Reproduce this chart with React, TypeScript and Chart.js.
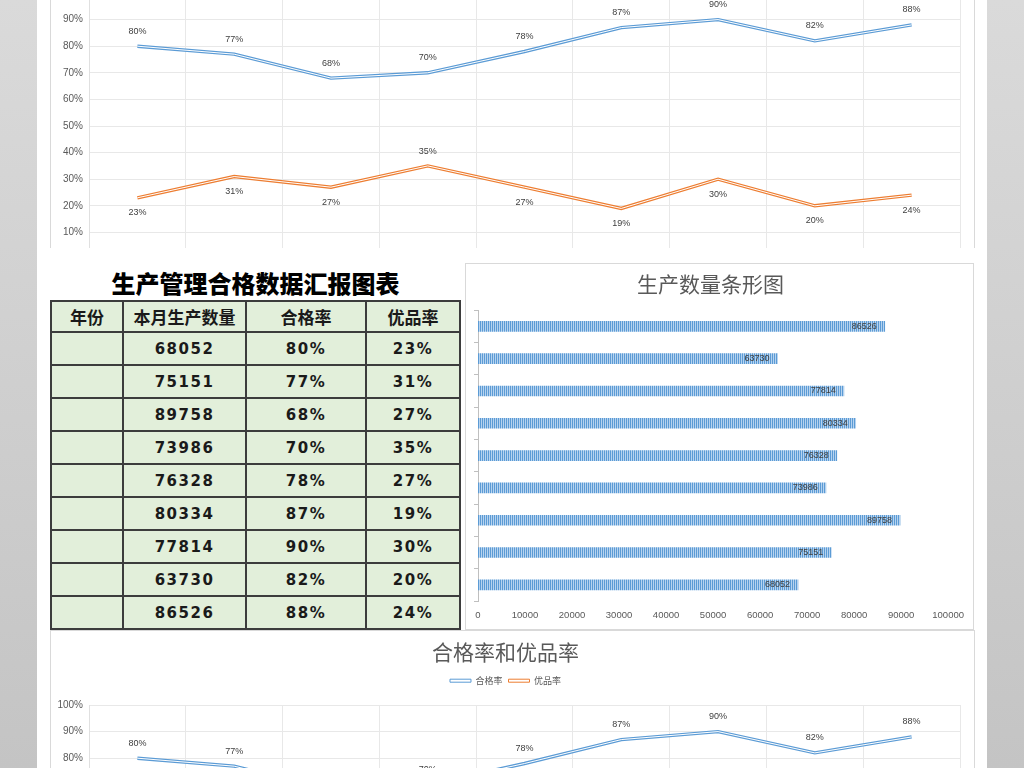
import React, { useEffect, useRef } from 'react';
import { Chart, registerables } from 'chart.js';

Chart.register(...registerables);

// ---------- data ----------
const years = ['', '', '', '', '', '', '', '', ''];
const quantities = [68052, 75151, 89758, 73986, 76328, 80334, 77814, 63730, 86526];
const passRates = [80, 77, 68, 70, 78, 87, 90, 82, 88];
const excellentRates = [23, 31, 27, 35, 27, 19, 30, 20, 24];
const excellentLabelSide = ['below', 'below', 'below', 'above', 'below', 'below', 'below', 'below', 'below'];
const tableHeaders = ['年份', '本月生产数量', '合格率', '优品率'];
const seriesNames = ['合格率', '优品率'];
const pageTitle = '生产管理合格数据汇报图表';
const barTitle = '生产数量条形图';
const lineTitle = '合格率和优品率';

const BLUE = '#5b9bd5';
const ORANGE = '#ed7d31';
const GRID = '#e8e8e8';
const TEXT = '#595959';
const SANS = '"Liberation Sans", Arial, sans-serif';
const CJK = '"Noto Sans CJK SC", "Noto Sans", sans-serif';

const lineLabelPlugin = {
  id: 'lineLabels',
  afterDatasetsDraw(chart: any) {
    const ctx = chart.ctx;
    ctx.save();
    ctx.font = '9px ' + SANS;
    ctx.fillStyle = '#404040';
    ctx.textAlign = 'center';
    ctx.textBaseline = 'middle';
    chart.getDatasetMeta(0).data.forEach((pt: any, i: number) => {
      ctx.fillText(passRates[i] + '%', pt.x, pt.y - 15);
    });
    chart.getDatasetMeta(1).data.forEach((pt: any, i: number) => {
      const dy = excellentLabelSide[i] === 'above' ? -14 : 15;
      ctx.fillText(excellentRates[i] + '%', pt.x, pt.y + dy);
    });
    ctx.restore();
  },
};

const barLabelPlugin = {
  id: 'barLabels',
  afterDatasetsDraw(chart: any) {
    const ctx = chart.ctx;
    ctx.save();
    ctx.font = '9px ' + SANS;
    ctx.fillStyle = '#404040';
    ctx.textAlign = 'right';
    ctx.textBaseline = 'middle';
    chart.getDatasetMeta(0).data.forEach((bar: any, i: number) => {
      ctx.fillText(String(quantities[i]), bar.x - 8, bar.y);
    });
    ctx.restore();
  },
};

function makeLineConfig(): any {
  return {
    type: 'line',
    data: {
      labels: years,
      datasets: [
        { label: seriesNames[0], data: passRates, borderColor: BLUE, borderWidth: 3.4, pointRadius: 0, tension: 0, order: 4 },
        { label: seriesNames[1], data: excellentRates, borderColor: ORANGE, borderWidth: 3.4, pointRadius: 0, tension: 0, order: 3 },
        { label: 'inner1', data: passRates, borderColor: '#ffffff', borderWidth: 1, pointRadius: 0, tension: 0, order: 2 },
        { label: 'inner2', data: excellentRates, borderColor: '#ffffff', borderWidth: 1, pointRadius: 0, tension: 0, order: 1 },
      ],
    },
    options: {
      responsive: false,
      animation: false,
      layout: { padding: { left: 0, right: 14, top: 0, bottom: 0 } },
      plugins: {
        tooltip: { enabled: false },
        title: {
          display: true,
          text: lineTitle,
          color: TEXT,
          font: { family: CJK, size: 21, weight: 'normal', lineHeight: 1.2 },
          padding: { top: 8, bottom: 6 },
        },
        legend: {
          display: true,
          position: 'top',
          labels: {
            boxWidth: 21,
            boxHeight: 3,
            padding: 6,
            color: TEXT,
            font: { family: CJK, size: 9 },
            generateLabels: () =>
              seriesNames.map((name, i) => ({
                text: name,
                fillStyle: '#ffffff',
                strokeStyle: i === 0 ? BLUE : ORANGE,
                lineWidth: 1,
                hidden: false,
                datasetIndex: i,
                fontColor: TEXT,
              })),
          },
        },
        subtitle: {
          display: true,
          text: '',
          weight: 500,
          font: { size: 1, lineHeight: 1 },
          padding: { top: 0, bottom: 8.8 },
        },
      },
      scales: {
        x: {
          offset: true,
          grid: { offset: true, color: GRID, drawTicks: false },
          border: { display: false },
          ticks: { display: false },
          afterFit: (s: any) => { s.height = 30; },
        },
        y: {
          min: 0,
          max: 100,
          grid: { color: GRID, drawTicks: false },
          border: { display: true, color: '#e0e0e0' },
          ticks: {
            stepSize: 10,
            padding: 6,
            color: TEXT,
            font: { family: SANS, size: 10 },
            callback: (v: any) => v + '%',
          },
          afterFit: (s: any) => { s.width = 38; },
        },
      },
    },
    plugins: [lineLabelPlugin],
  };
}

function makeBarConfig(pattern: any): any {
  return {
    type: 'bar',
    data: {
      labels: years,
      datasets: [
        { label: '本月生产数量', data: quantities, backgroundColor: pattern, borderWidth: 0, barThickness: 10 },
      ],
    },
    options: {
      indexAxis: 'y',
      responsive: false,
      animation: false,
      layout: { padding: { left: 0, right: 18, top: 0, bottom: 0 } },
      plugins: {
        tooltip: { enabled: false },
        legend: { display: false },
        title: {
          display: true,
          text: barTitle,
          color: TEXT,
          font: { family: CJK, size: 21, weight: 'normal', lineHeight: 1.2 },
          padding: { top: 7, bottom: 14 },
        },
      },
      scales: {
        x: {
          min: 0,
          max: 100000,
          grid: { display: false, drawTicks: false },
          border: { display: false },
          ticks: {
            stepSize: 10000,
            padding: 9,
            color: TEXT,
            font: { family: SANS, size: 9.5 },
            maxRotation: 0,
            callback: (v: any) => String(v),
          },
          afterFit: (s: any) => { s.height = 28; },
        },
        y: {
          reverse: true,
          grid: { drawOnChartArea: false, drawTicks: true, tickLength: 4, offset: true, color: '#bfbfbf' },
          border: { display: true, color: '#bfbfbf' },
          ticks: { display: false },
          afterFit: (s: any) => { s.width = 12; },
        },
      },
    },
    plugins: [barLabelPlugin],
  };
}

function LineChartCanvas() {
  const ref = useRef<HTMLCanvasElement>(null);
  useEffect(() => {
    const chart = new Chart(ref.current as HTMLCanvasElement, makeLineConfig());
    return () => chart.destroy();
  }, []);
  return <canvas ref={ref} width={923} height={370} style={{ display: 'block' }} />;
}

function BarChartCanvas() {
  const ref = useRef<HTMLCanvasElement>(null);
  useEffect(() => {
    const pc = document.createElement('canvas');
    pc.width = 2;
    pc.height = 2;
    const pctx = pc.getContext('2d') as CanvasRenderingContext2D;
    pctx.fillStyle = '#5b9bd5';
    pctx.fillRect(0, 0, 1, 2);
    pctx.fillStyle = '#b7d3ef';
    pctx.fillRect(1, 0, 1, 2);
    const pattern = (ref.current as HTMLCanvasElement).getContext('2d')!.createPattern(pc, 'repeat');
    const chart = new Chart(ref.current as HTMLCanvasElement, makeBarConfig(pattern));
    return () => chart.destroy();
  }, []);
  return <canvas ref={ref} width={507} height={365} style={{ display: 'block' }} />;
}

const cellBorder = '2px solid #3c3c3c';

export default function App() {
  return (
    <div
      style={{
        position: 'fixed',
        left: 0,
        top: 0,
        width: 1024,
        height: 768,
        overflow: 'hidden',
        background: 'linear-gradient(#dadada, #c4c4c4)',
      }}
    >
      <div style={{ position: 'absolute', left: 37, top: 0, width: 950, height: 768, background: '#ffffff' }} />

      {/* top (cropped) line chart */}
      <div
        style={{
          position: 'absolute',
          left: 50,
          top: 0,
          width: 923,
          height: 248,
          overflow: 'hidden',
          borderLeft: '1px solid #d9d9d9',
          borderRight: '1px solid #d9d9d9',
        }}
      >
        <div style={{ position: 'absolute', left: 0, top: -81 }}>
          <LineChartCanvas />
        </div>
      </div>

      {/* page title */}
      <div
        style={{
          position: 'absolute',
          left: 50,
          top: 268,
          width: 411,
          height: 30,
          lineHeight: '30px',
          textAlign: 'center',
          fontFamily: CJK,
          fontWeight: 900,
          fontSize: 24,
          color: '#000',
          whiteSpace: 'nowrap',
        }}
      >
        {pageTitle}
      </div>

      {/* table */}
      <table
        style={{
          position: 'absolute',
          left: 50,
          top: 300,
          width: 409,
          borderCollapse: 'collapse',
          tableLayout: 'fixed',
          background: '#e2efda',
          color: '#1a1a1a',
        }}
      >
        <colgroup>
          <col style={{ width: 72 }} />
          <col style={{ width: 123 }} />
          <col style={{ width: 120 }} />
          <col style={{ width: 94 }} />
        </colgroup>
        <tbody>
          <tr style={{ height: 31 }}>
            {tableHeaders.map((h) => (
              <td
                key={h}
                style={{
                  border: cellBorder,
                  textAlign: 'center',
                  fontFamily: CJK,
                  fontWeight: 700,
                  fontSize: 17,
                  padding: 0,
                  lineHeight: '20px',
                }}
              >
                {h}
              </td>
            ))}
          </tr>
          {quantities.map((q, i) => (
            <tr key={i} style={{ height: 33 }}>
              <td style={{ border: cellBorder, padding: 0 }}>{years[i]}</td>
              {[String(q), passRates[i] + '%', excellentRates[i] + '%'].map((t, j) => (
                <td
                  key={j}
                  style={{
                    border: cellBorder,
                    textAlign: 'center',
                    fontFamily: '"DejaVu Sans", sans-serif',
                    fontWeight: 700,
                    fontSize: 15,
                    letterSpacing: '1.5px',
                    padding: 0,
                    lineHeight: '18px',
                  }}
                >
                  {t}
                </td>
              ))}
            </tr>
          ))}
        </tbody>
      </table>

      {/* bar chart */}
      <div
        style={{
          position: 'absolute',
          left: 465,
          top: 263,
          width: 507,
          height: 365,
          border: '1px solid #d9d9d9',
          background: '#fff',
        }}
      >
        <BarChartCanvas />
      </div>

      {/* bottom (cropped) line chart */}
      <div
        style={{
          position: 'absolute',
          left: 50,
          top: 630,
          width: 923,
          height: 370,
          borderLeft: '1px solid #d9d9d9',
          borderRight: '1px solid #d9d9d9',
          borderTop: '1px solid #d9d9d9',
          background: '#fff',
        }}
      >
        <LineChartCanvas />
      </div>
    </div>
  );
}
